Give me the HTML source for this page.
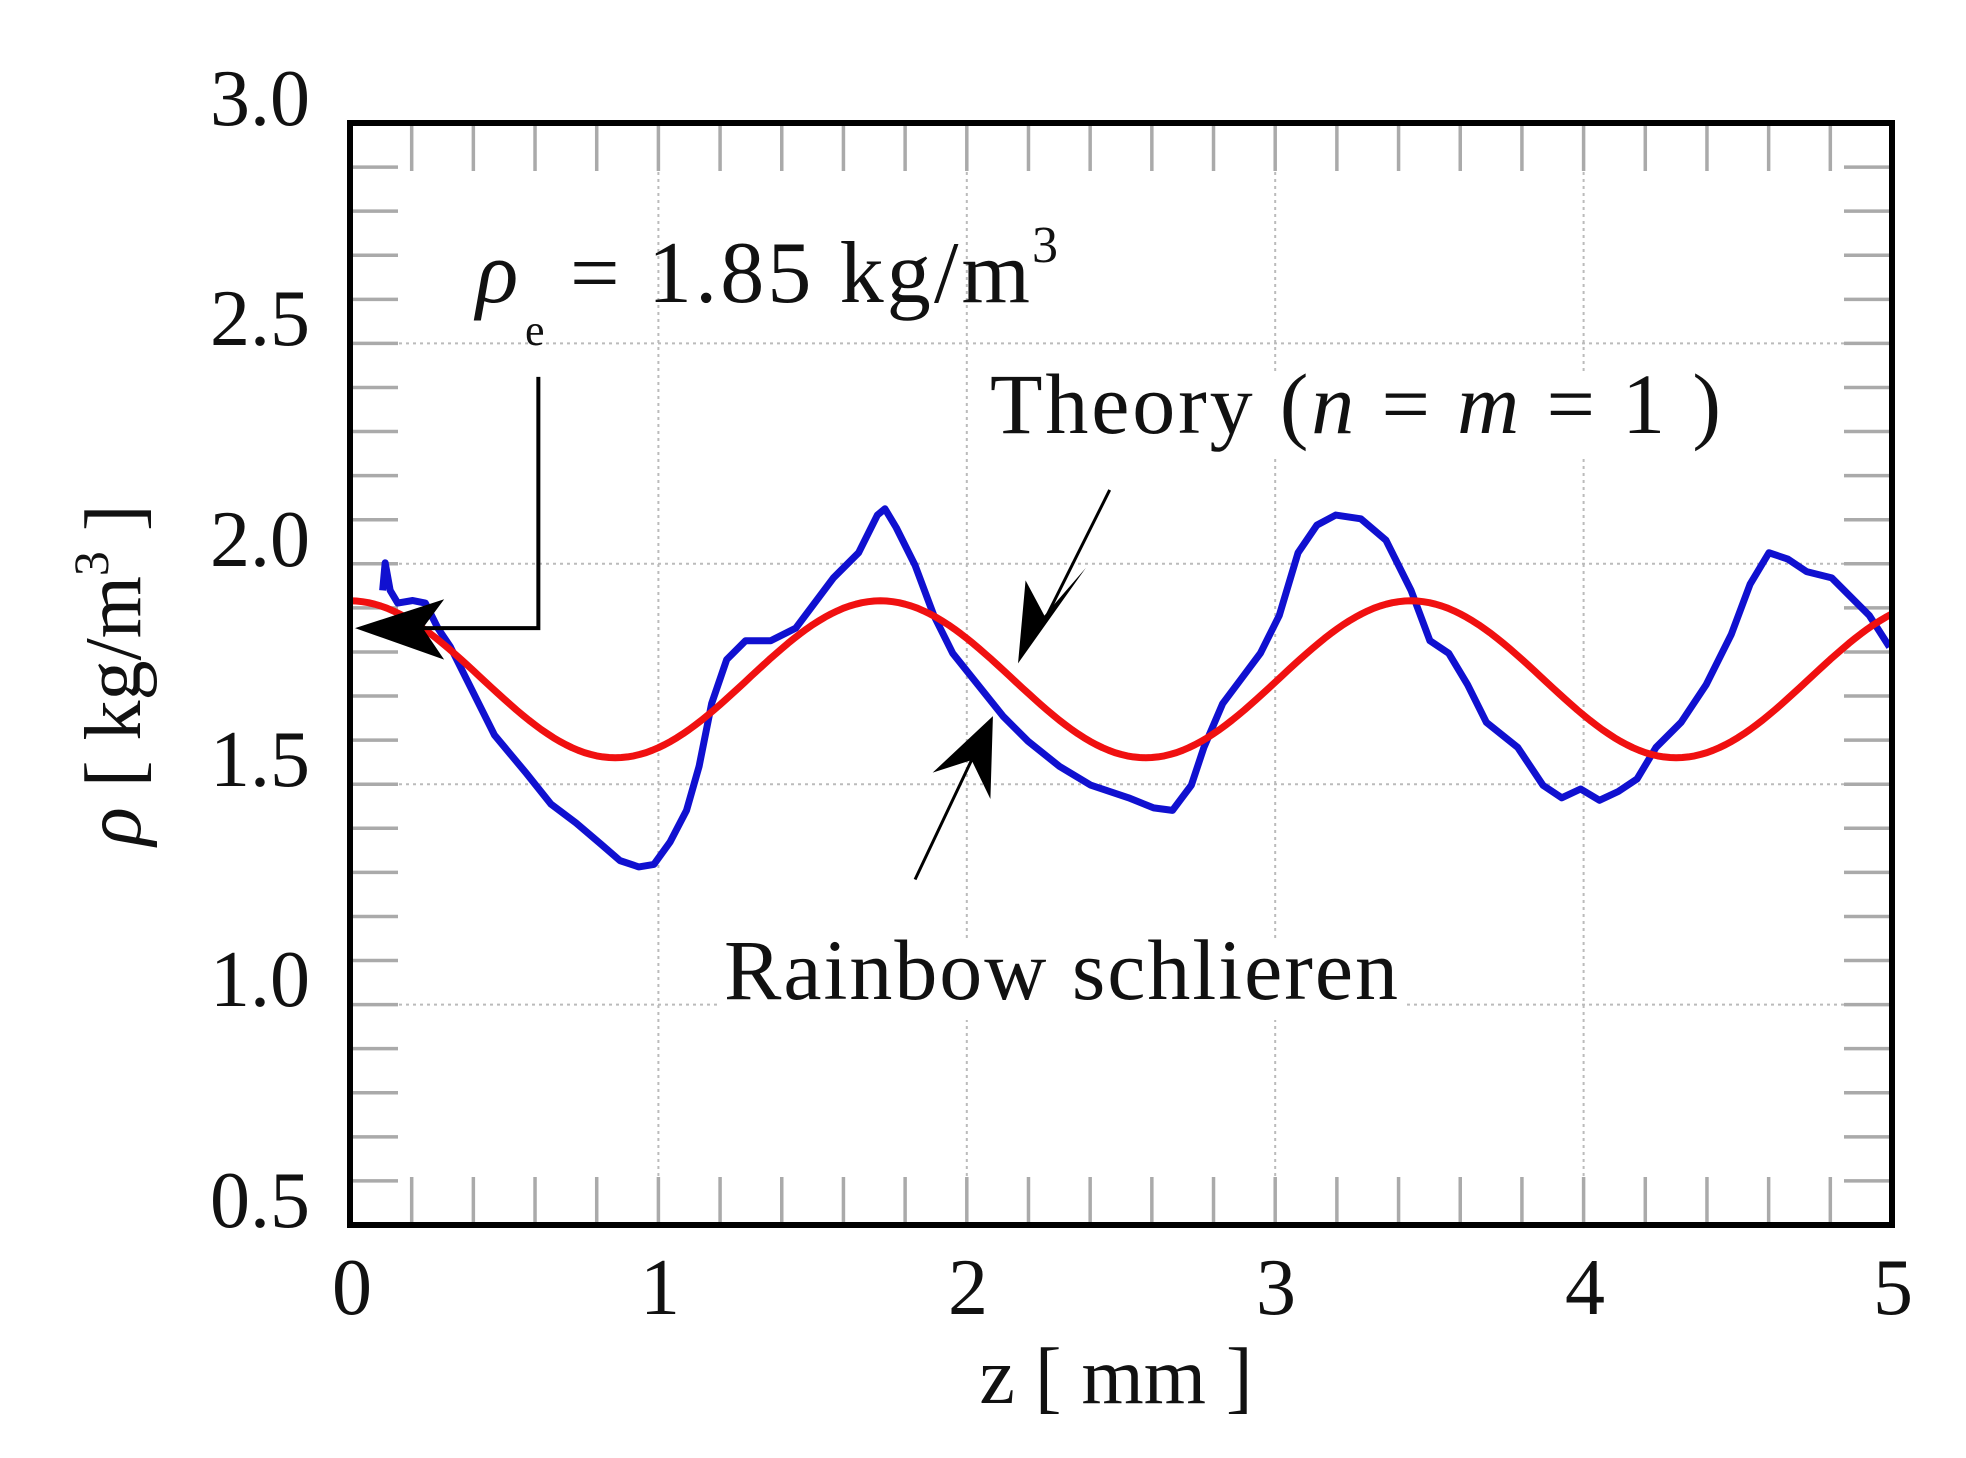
<!DOCTYPE html>
<html><head><meta charset="utf-8"><style>
html,body{margin:0;padding:0;background:#fff;}
svg{display:block;}
text{font-family:"Liberation Serif",serif;fill:#111;}
</style></head><body>
<svg id="s" width="1966" height="1458" viewBox="0 0 1966 1458" xmlns="http://www.w3.org/2000/svg">
<rect width="1966" height="1458" fill="#fff"/>
<g id="grid" stroke="#bbb" stroke-width="2" stroke-dasharray="3,4"></g>
<g id="ticks" stroke="#aaa" stroke-width="3.5"></g>
<g transform="translate(350,123) scale(1.2557,1.2566) translate(-280,-98)">
<polyline fill="none" stroke="#1010d0" stroke-width="7" vector-effect="non-scaling-stroke" stroke-linejoin="round" points="306,470 308,448 312,470 318,480 330,478 340,480 350,500 360,515 375,545 395,585 420,615 440,640 460,655 480,672 495,685 510,690 522,688 535,670 548,645 558,610 568,560 580,525 595,510 615,510 635,500 650,480 665,460 685,440 700,410 706,405 715,420 730,450 745,490 760,520 780,545 800,570 820,590 845,610 870,625 900,635 920,643 935,645 950,625 960,595 975,560 990,540 1005,520 1020,490 1035,440 1050,418 1065,410 1085,413 1105,430 1125,470 1140,510 1155,520 1170,545 1185,575 1210,595 1230,625 1245,635 1260,628 1275,637 1290,630 1305,620 1320,595 1340,575 1360,545 1380,505 1395,465 1410,440 1425,445 1440,455 1460,460 1475,475 1490,490 1506,515"/>
</g>
<polyline id="red" fill="none" stroke="#f01010" stroke-width="7" stroke-linejoin="round"/>
<g transform="translate(350,123) scale(1.2557,1.2566) translate(-280,-98)">
<polyline fill="none" stroke="#000" stroke-width="4" vector-effect="non-scaling-stroke" points="430,300 430,500 330,500"/>
<polygon fill="#000" points="284,500 355,477 338,500 355,525"/>
<line x1="885" y1="390" x2="835" y2="490" stroke="#000" stroke-width="3" vector-effect="non-scaling-stroke"/>
<polygon fill="#000" points="812,528 818,462 833,490 866,452"/>
<line x1="730" y1="700" x2="775" y2="605" stroke="#000" stroke-width="3" vector-effect="non-scaling-stroke"/>
<polygon fill="#000" points="792,570 790,636 775,605 744,615"/>
</g>
<rect x="350" y="123" width="1542" height="1102" fill="none" stroke="#000" stroke-width="6"/>
<g font-size="80" text-anchor="end">
<text x="310" y="125">3.0</text>
<text x="310" y="345">2.5</text>
<text x="310" y="566">2.0</text>
<text x="310" y="786">1.5</text>
<text x="310" y="1006">1.0</text>
<text x="310" y="1227">0.5</text>
</g>
<g font-size="80" text-anchor="middle">
<text x="352" y="1314">0</text>
<text x="660" y="1314">1</text>
<text x="968" y="1314">2</text>
<text x="1276" y="1314">3</text>
<text x="1585" y="1314">4</text>
<text x="1893" y="1314">5</text>
</g>
<text x="1116" y="1403" font-size="80" text-anchor="middle">z [ mm ]</text>
<text transform="translate(140,675) rotate(-90)" font-size="80" text-anchor="middle"><tspan font-style="italic">ρ</tspan> [ kg/m<tspan font-size="50" dy="-32">3</tspan><tspan dy="32"> ]</tspan></text>
<text x="476" y="302" font-size="88" font-style="italic">ρ</text>
<text x="525" y="345" font-size="44">e</text>
<text x="570" y="302" font-size="88" textLength="460">= 1.85 kg/m</text>
<text x="1032" y="262" font-size="52">3</text>
<rect x="985" y="375" width="745" height="80" fill="#fff"/>
<text x="990" y="433" font-size="86" textLength="731">Theory (<tspan font-style="italic">n</tspan> = <tspan font-style="italic">m</tspan> = 1 )</text>
<rect x="720" y="940" width="685" height="80" fill="#fff"/>
<text x="724" y="999" font-size="86" textLength="674">Rainbow schlieren</text>
<script>
(function(){
var L=350,T=123,W=1542,H=1102;
function X(z){return L+z/5*W;} function Y(r){return T+(3-r)/2.5*H;}
var ns="http://www.w3.org/2000/svg";
var g=document.getElementById('grid'),t=document.getElementById('ticks');
function ln(p,x1,y1,x2,y2){var e=document.createElementNS(ns,'line');e.setAttribute('x1',x1);e.setAttribute('y1',y1);e.setAttribute('x2',x2);e.setAttribute('y2',y2);p.appendChild(e);}
for(var i=1;i<5;i++)ln(g,X(i),T,X(i),T+H);
for(var r=1;r<3;r+=0.5)ln(g,L,Y(r),L+W,Y(r));
for(var k=1;k<25;k++){var x=X(k*0.2);ln(t,x,T,x,T+48);ln(t,x,T+H-48,x,T+H);}
for(var k=1;k<25;k++){var y=Y(0.5+k*0.1);ln(t,L,y,L+48,y);ln(t,L+W-48,y,L+W,y);}
var pts=[];for(var z=0;z<=5.0001;z+=0.02){pts.push(X(z).toFixed(1)+','+Y(1.738+0.178*Math.cos(2*Math.PI*z/1.72)).toFixed(1));}
document.getElementById('red').setAttribute('points',pts.join(' '));
})();
</script>
</svg>
</body></html>
